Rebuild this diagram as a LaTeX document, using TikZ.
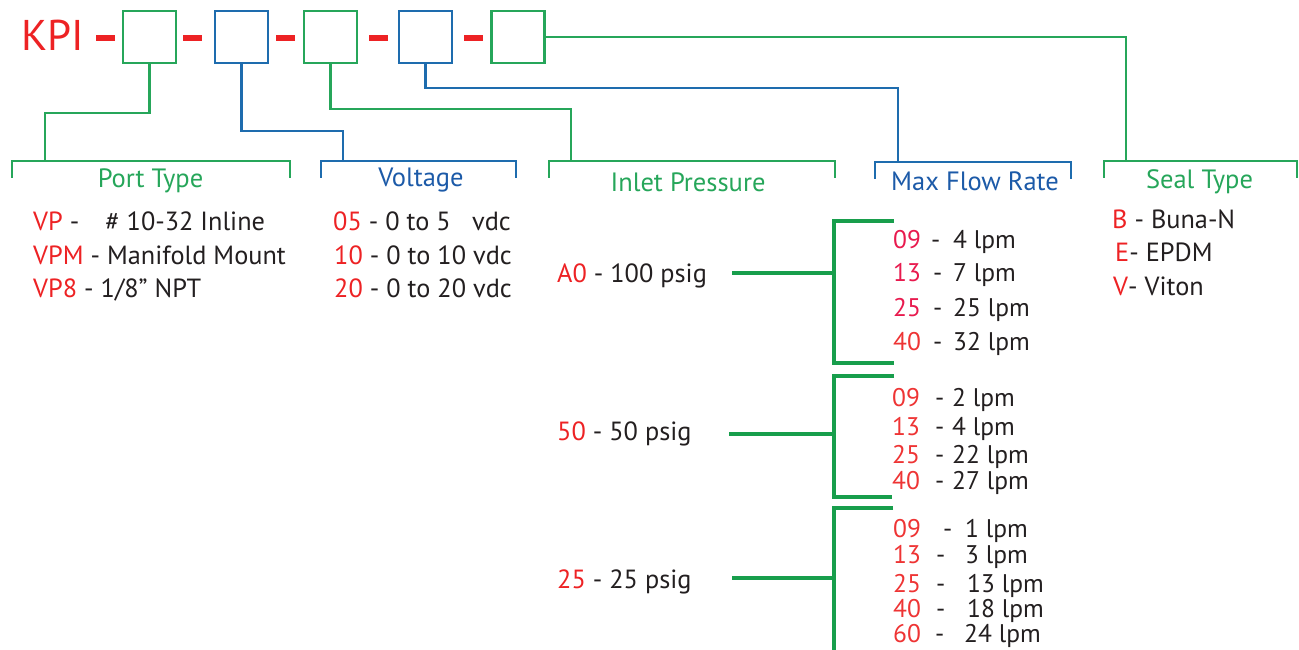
\documentclass[tikz,border=0pt]{standalone}
\usepackage{fontspec}
\setmainfont{PT Sans}
\usetikzlibrary{calc}
\definecolor{kred}{RGB}{237,34,36}
\definecolor{lred}{RGB}{238,52,52}
\definecolor{pred}{RGB}{232,26,78}
\definecolor{tgreen}{RGB}{38,166,90}
\definecolor{lgreen}{RGB}{24,158,76}
\definecolor{tblue}{RGB}{30,108,174}
\definecolor{hblue}{RGB}{28,90,168}
\definecolor{ink}{RGB}{35,31,32}
\begin{document}
\begin{tikzpicture}[x=1pt,y=-1pt,
  box/.style={draw,line width=2.2pt,minimum width=53pt,minimum height=52pt,inner sep=0pt},
  dashmark/.style={fill=kred,minimum width=19pt,minimum height=6pt,inner sep=0pt},
  tline/.style={line width=2.4pt,line join=miter},
  lline/.style={line width=3.4pt,draw=lgreen,line join=miter},
  head/.style={anchor=base,inner sep=0pt,font=\fontsize{26.5}{30}\selectfont},
  item/.style={anchor=base west,inner sep=0pt,text=ink,font=\fontsize{26.3}{30}\selectfont},
  flow/.style={anchor=base west,inner sep=0pt,text=ink,font=\fontsize{25.5}{28}\selectfont}
]
\useasboundingbox (0,0) rectangle (1299,650);
% top row
\node[anchor=base west,inner sep=0pt,text=kred,font=\fontsize{43}{50}\selectfont] (kpi) at (21,51) {KPI};
\node[dashmark] (d1) at (105.5,38) {};
\node[dashmark] (d2) at (192.5,38) {};
\node[dashmark] (d3) at (285.5,38) {};
\node[dashmark] (d4) at (378.5,38) {};
\node[dashmark] (d5) at (473.5,38) {};
\node[box,draw=tgreen] (b1) at (149.5,37) {};
\node[box,draw=tblue] (b2) at (241.5,37) {};
\node[box,draw=tgreen] (b3) at (330.5,37) {};
\node[box,draw=tblue] (b4) at (425.5,37) {};
\node[box,draw=tgreen] (b5) at (518,37) {};
% bracket junctions
\coordinate (j1) at (45,161);
\coordinate (j2) at (343,161);
\coordinate (j3) at (571,161);
\coordinate (j4) at (898,162);
\coordinate (j5) at (1126,161);
% connectors
\draw[tline,tgreen] (b1.south) |- (45,113) -- (j1);
\draw[tline,tblue] (b2.south) |- (343,131) -- (j2);
\draw[tline,tgreen] (b3.south) |- (571,109) -- (j3);
\draw[tline,tblue] (b4.south) |- (898,88) -- (j4);
\draw[tline,tgreen] (b5.east) -| (j5);
% brackets
\draw[tline,tgreen] (12,178) |- (290,161) -- (290,178);
\draw[tline,tblue] (321,178) |- (516,161) -- (516,178);
\draw[tline,tgreen] (549,178) |- (835,161) -- (835,178);
\draw[tline,tblue] (875,179) |- (1071,162) -- (1071,179);
\draw[tline,tgreen] (1104,178) |- (1297,161) -- (1297,178);
% headers
\node[head,text=tgreen] (hport) at (150.5,188) {Port Type};
\node[head,text=hblue] (hvolt) at (421,186) {Voltage};
\node[head,text=tgreen] (hinlet) at (688,191) {Inlet Pressure};
\node[head,text=hblue] (hflow) at (975,190) {Max Flow Rate};
\node[head,text=tgreen] (hseal) at (1199.5,189) {Seal Type};
% port type
\node[item] (p1) at (33,230) {\textcolor{kred}{VP}~-\hspace{26pt}\#~10-32 Inline};
\node[item] (p2) at (33,264) {\textcolor{kred}{VPM}~-~Manifold Mount};
\node[item] (p3) at (33,297) {\textcolor{kred}{VP8}~-~1/8” NPT};
% voltage
\node[item] (v1) at (333,230) {\textcolor{kred}{05}~-~0 to 5\hphantom{0} vdc};
\node[item] (v2) at (334,264) {\textcolor{kred}{10}~-~0 to 10 vdc};
\node[item] (v3) at (334,297) {\textcolor{kred}{20}~-~0 to 20 vdc};
% seal type
\node[item] (s1) at (1112,228) {\textcolor{kred}{B}~-~Buna-N};
\node[item] (s2) at (1115,261) {\textcolor{kred}{E}-~EPDM};
\node[item] (s3) at (1113,295) {\textcolor{kred}{V}-~Viton};
% inlet pressure
\node[item] (i1) at (557,282) {\textcolor{kred}{A0}~-~100 psig};
\node[item] (i2) at (557,440) {\textcolor{kred}{50}~-~50 psig};
\node[item] (i3) at (557,588) {\textcolor{kred}{25}~-~25 psig};
\coordinate (i1e) at (732,273);
\coordinate (i2e) at (729,434);
\coordinate (i3e) at (732,578);
\coordinate (g1) at (834,273);
\coordinate (g2) at (834,434);
\coordinate (g3) at (834,578);
\draw[lline] (i1e) -- (g1);
\draw[lline] (i2e) -- (g2);
\draw[lline] (i3e) -- (g3);
\draw[lline] (894,221) -| (834,363) -- (894,363);
\draw[lline] (894,376) -| (834,497) -- (892,497);
\draw[lline] (893,508) -| (834,655);
% flow group 1
\foreach \n/\c/\dx/\v/\yy [count=\i] in {09/pred/931/4 lpm/248, 13/pred/933/7 lpm/281, 25/pred/933/25 lpm/316, 40/lred/933/32 lpm/350}{
  \node[flow,text=\c] (fa\i) at (893,\yy) {\n};
  \node[flow] (fad\i) at (\dx,\yy) {-};
  \node[flow] (fav\i) at (953,\yy) {\v};
}
% flow group 2
\foreach \n/\v/\yy [count=\i] in {09/2 lpm/406, 13/4 lpm/435, 25/22 lpm/463, 40/27 lpm/489}{
  \node[flow,text=lred] (fb\i) at (892,\yy) {\n};
  \node[flow] (fbd\i) at (935,\yy) {-};
  \node[flow] (fbv\i) at (952,\yy) {\v};
}
% flow group 3
\foreach \n/\dx/\vx/\v/\yy [count=\i] in {09/943/965/1 lpm/537, 13/936/965/3 lpm/563, 25/936/967/13 lpm/592, 40/936/967/18 lpm/617, 60/935/964/24 lpm/642}{
  \node[flow,text=lred] (fc\i) at (893,\yy) {\n};
  \node[flow] (fcd\i) at (\dx,\yy) {-};
  \node[flow] (fcv\i) at (\vx,\yy) {\v};
}
\end{tikzpicture}
\end{document}
